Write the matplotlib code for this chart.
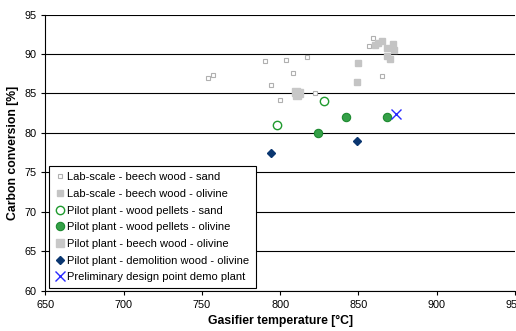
import numpy as np
import matplotlib
matplotlib.use("Agg")
import matplotlib.pyplot as plt

plt.rcParams['font.family'] = ['Liberation Sans', 'DejaVu Sans']

# Lab-scale - beech wood - sand
lab_sand_T = [754, 757, 790, 794, 800, 804, 808, 817, 822, 857, 859, 865]
lab_sand_X = [86.9, 87.3, 89.1, 86.1, 84.2, 89.3, 87.6, 89.6, 85.0, 91.0, 92.0, 87.2]

# Lab-scale - beech wood - olivine
lab_oliv_T = [849, 850, 860.5, 862.5, 865, 868.5, 868.5, 870, 872, 873]
lab_oliv_X = [86.5, 88.9, 91.1, 91.4, 91.7, 90.7, 89.7, 89.4, 91.3, 90.5]

# Pilot plant - wood pellets - sand
pp_sand_T = [798, 828]
pp_sand_X = [81.0, 84.0]

# Pilot plant - wood pellets - olivine
pp_oliv_T = [824, 842, 868]
pp_oliv_X = [80.0, 82.0, 82.0]

# Pilot plant - beech wood - olivine
pb_oliv_T = [810, 811, 812]
pb_oliv_X = [85.2, 84.8, 85.0]

# Pilot plant - demolition wood - olivine
pd_oliv_T = [794, 849]
pd_oliv_X = [77.5, 79.0]

# Preliminary design point demo plant
demo_T = [874]
demo_X = [82.4]

fig = plt.figure(figsize=(5.16, 3.31), dpi=100)
ax = fig.add_axes([0.088, 0.122, 0.91, 0.834])

ax.plot(lab_sand_T, lab_sand_X, ls='none', marker='s', ms=3, mfc='white', mec='#b0b0b0', mew=0.8,
        label='Lab-scale - beech wood - sand')
ax.plot(lab_oliv_T, lab_oliv_X, ls='none', marker='s', ms=3.8, mfc='#c4c4c4', mec='#c4c4c4',
        label='Lab-scale - beech wood - olivine')
ax.plot(pp_sand_T, pp_sand_X, ls='none', marker='o', ms=6, mfc='white', mec='#1f9a2e', mew=1.0,
        label='Pilot plant - wood pellets - sand')
ax.plot(pp_oliv_T, pp_oliv_X, ls='none', marker='o', ms=6, mfc='#35a048', mec='#1d8a30', mew=0.8,
        label='Pilot plant - wood pellets - olivine')
ax.plot(pb_oliv_T, pb_oliv_X, ls='none', marker='s', ms=6, mfc='#c8c8c8', mec='#c8c8c8',
        label='Pilot plant - beech wood - olivine')
ax.plot(pd_oliv_T, pd_oliv_X, ls='none', marker='D', ms=4.5, mfc='#0a3670', mec='#0a3670',
        label='Pilot plant - demolition wood - olivine')
ax.plot(demo_T, demo_X, ls='none', marker='x', ms=7, mec='#2a2aff', mew=1.0,
        label='Preliminary design point demo plant')

ax.set_xlim(650, 950)
ax.set_ylim(60, 95)
ax.set_xticks(np.arange(650, 951, 50))
ax.set_yticks(np.arange(60, 96, 5))
ax.yaxis.grid(True, color='black', lw=0.8)
ax.set_axisbelow(True)
for s in ['top', 'right']:
    ax.spines[s].set_visible(False)
for s in ['left', 'bottom']:
    ax.spines[s].set_linewidth(0.8)
ax.tick_params(labelsize=7.8, length=3, width=0.8, direction='out', colors='black')
ax.set_xlabel('Gasifier temperature [°C]', fontsize=8.8, fontweight='bold', labelpad=4)
ax.set_ylabel('Carbon conversion [%]', fontsize=8.8, fontweight='bold', labelpad=4)

leg = ax.legend(loc='lower left', bbox_to_anchor=(0.008, 0.008), fontsize=8, frameon=True,
                fancybox=False, edgecolor='black', framealpha=1, handlelength=0.8,
                handletextpad=0.3, borderpad=0.55, labelspacing=0.6, borderaxespad=0,
                shadow=False)
leg.get_frame().set_linewidth(0.8)

fig.savefig('out.png', dpi=100)
